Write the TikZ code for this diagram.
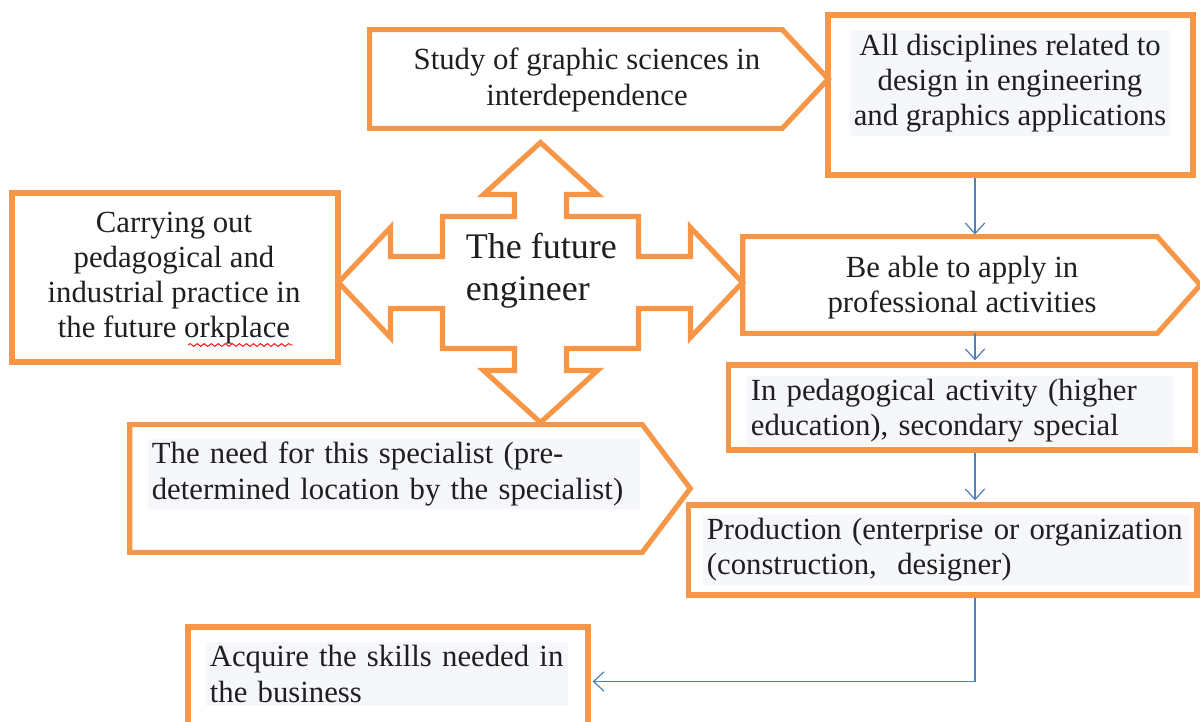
\documentclass[tikz,border=0pt]{standalone}
\usepackage{fontspec}
\setmainfont{Liberation Serif}
\usetikzlibrary{arrows.meta,decorations.pathmorphing}
\definecolor{boxorange}{RGB}{247,150,70}
\definecolor{linkblue}{RGB}{79,129,189}
\definecolor{textbg}{RGB}{245,247,250}

\begin{document}
\begin{tikzpicture}[x=0.02cm, y=-0.02cm,
  frame/.style={draw=boxorange, line width=2.9pt},
  box/.style={frame, rectangle, inner sep=0pt},
  shell/.style={rectangle, inner sep=0pt},
  txt/.style={font=\fontsize{17.5}{20}\selectfont, text=black!88, inner sep=2pt},
  shade/.style={txt, fill=textbg},
  hubtext/.style={font=\fontsize{20.5}{24}\selectfont, text=black!88, inner sep=2pt},
  link/.style={draw=linkblue, line width=0.7pt, shorten >=1.2pt, -{Straight Barb[length=6pt,width=11pt]}}]
\useasboundingbox (0,0) rectangle (1200,722);

% plain boxes
\node[box, minimum width=7.3cm, minimum height=3.2cm] (disc) at (1010.5,95) {};
\node[box, minimum width=6.52cm, minimum height=3.38cm] (carry) at (175,277.5) {};
\node[box, minimum width=9.34cm, minimum height=1.7cm] (ped) at (961.5,407.5) {};
\node[box, minimum width=10.18cm, minimum height=1.8cm] (prod) at (942.5,550) {};
\node[box, minimum width=8cm, minimum height=2.18cm] (acq) at (388,681.5) {};

% pentagon arrows
\node[shell, minimum width=9.16cm, minimum height=1.96cm] (study) at (599,79) {};
\node[shell, minimum width=9.14cm, minimum height=1.92cm] (able) at (971.5,285) {};
\node[shell, minimum width=11.2cm, minimum height=2.54cm] (need) at (410,488.5) {};
\draw[frame] (study.north west) -- ([xshift=-0.92cm]study.north east) -- (study.east)
  -- ([xshift=-0.92cm]study.south east) -- (study.south west) -- cycle;
\draw[frame] (able.north west) -- ([xshift=-0.86cm]able.north east) -- (able.east)
  -- ([xshift=-0.86cm]able.south east) -- (able.south west) -- cycle;
\draw[frame] (need.north west) -- ([xshift=-0.96cm]need.north east) -- (need.east)
  -- ([xshift=-0.96cm]need.south east) -- (need.south west) -- cycle;

% four-way arrow
\coordinate (mid) at (540.5,282.5);
\draw[frame, shift={(mid)}] (0,-140) -- (57,-88) -- (26,-88) -- (26,-66) -- (98,-66)
  -- (98,-26) -- (150,-26) -- (150,-55) -- (202,0) -- (150,55) -- (150,26) -- (98,26)
  -- (98,66) -- (26,66) -- (26,88) -- (57,88) -- (0,140) -- (-57,88) -- (-26,88)
  -- (-26,66) -- (-98,66) -- (-98,26) -- (-150,26) -- (-150,55) -- (-202,0)
  -- (-150,-55) -- (-150,-26) -- (-98,-26) -- (-98,-66) -- (-26,-66) -- (-26,-88)
  -- (-57,-88) -- cycle;

% texts
\node[txt, align=center] (studytext) at (587,80) {Study of graphic sciences in\\interdependence};
\node[shade, align=center] (disctext) at (1010,83) {All disciplines related to\\design in engineering\\and graphics applications};
\node[txt, align=center] (carrytext) at (174,278) {Carrying out\\pedagogical and\\industrial practice in\\the future orkplace};
\node[hubtext, align=left, anchor=west] (hub) at (462,271) {The future\\engineer};
\node[txt, align=center] (abletext) at (962,288) {Be able to apply in\\professional activities};
\node[shade, align=left, text width=8.4cm, anchor=west] (pedtext) at (747,411) {In pedagogical activity (higher\\education), secondary special};
\node[shade, align=left, text width=9.7cm, anchor=west] (needtext) at (148,474) {The need for this specialist (pre-\\determined location by the specialist)};
\node[shade, align=left, text width=9.6cm, anchor=west] (prodtext) at (703,550) {Production (enterprise or organization\\(construction,\ \ designer)};
\node[shade, align=left, text width=7.1cm, anchor=west] (acqtext) at (206,674) {Acquire the skills needed in\\the business};
\draw[red, line width=0.5pt, decorate, decoration={snake, segment length=4pt, amplitude=0.8pt}] (188,345) -- (293,345);

% links
\coordinate (col) at (975,0);
\draw[link] (disc.south -| col) -- (able.north -| col);
\draw[link] (able.south -| col) -- (ped.north -| col);
\draw[link] (ped.south -| col) -- (prod.north -| col);
\draw[link] (prod.south -| col) |- (acq.east);
\end{tikzpicture}
\end{document}
